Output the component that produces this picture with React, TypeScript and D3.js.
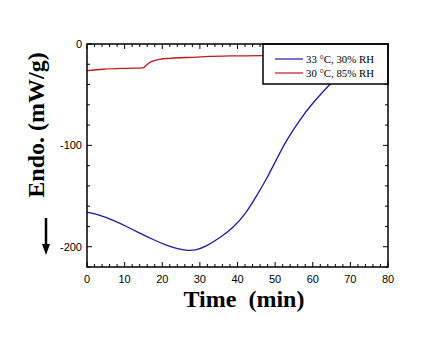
import React from "react";
import * as d3 from "d3";

const blueT = [0, 3.4, 7, 10.5, 14, 17.6, 21.1, 24.6, 27, 29, 31.7, 35.2, 38.8, 42.3, 45, 47.6, 50.3, 52.9, 56.4, 59.9, 64.4, 67, 70];
const blueV = [-166, -168.5, -174, -180, -186.5, -193, -198.7, -202.7, -203.8, -203.3, -199.7, -191.5, -181.6, -166.8, -150.4, -134, -114.3, -95.5, -75.5, -58.4, -40.4, -30, -20];
const redT = [0, 4.3, 10.5, 14.9, 15.8, 17.1, 19.3, 22, 28.2, 37.9, 46.6, 60, 70, 80];
const redV = [-26.3, -24.9, -24, -23.6, -20.7, -17.4, -15.1, -14.1, -13.1, -11.8, -11.5, -11, -10.8, -10.6];
const xTicks = [0, 10, 20, 30, 40, 50, 60, 70, 80];
const yTicks = [0, -100, -200];
const legendLabels = ["33 °C, 30% RH", "30 °C, 85% RH"];
const colors = ["#1c1ca0", "#c01a1a"];

export default function App() {
  const W = 433, H = 341;
  const L = 87, R = 388, T = 44, B = 267;
  const x = d3.scaleLinear().domain([0, 80]).range([L, R]);
  const y = d3.scaleLinear().domain([-220, 0]).range([B, T]);
  const lineB = d3.line<[number, number]>().x(d => x(d[0])).y(d => y(d[1])).curve(d3.curveBasis);
  const lineR = d3.line<[number, number]>().x(d => x(d[0])).y(d => y(d[1])).curve(d3.curveMonotoneX);
  const blue: [number, number][] = blueT.map((t, i) => [t, blueV[i]]);
  const red: [number, number][] = redT.map((t, i) => [t, redV[i]]);
  const xMinor = d3.range(0, 80.01, 2);
  const yMinor = d3.range(-220, 0.01, 20);
  return (
    <svg width={W} height={H} style={{ position: "absolute", left: 0, top: 0, background: "#fff" }}>
      <defs>
        <clipPath id="clip"><rect x={L} y={T} width={R - L} height={B - T} /></clipPath>
      </defs>
      <g clipPath="url(#clip)" fill="none" strokeWidth={1.3}>
        <path d={lineR(red) || ""} stroke={colors[1]} />
        <path d={lineB(blue) || ""} stroke={colors[0]} />
      </g>
      <g stroke="#000" strokeWidth={1}>
        {xMinor.map(v => {
          const major = v % 10 === 0;
          const len = major ? 5 : 3;
          return (
            <g key={"x" + v}>
              <line x1={x(v)} x2={x(v)} y1={B} y2={B - len} />
              <line x1={x(v)} x2={x(v)} y1={T} y2={T + len} />
            </g>
          );
        })}
        {yMinor.map(v => {
          const major = v % 100 === 0;
          const len = major ? 5 : 3;
          return (
            <g key={"y" + v}>
              <line x1={L} x2={L + len} y1={y(v)} y2={y(v)} />
              <line x1={R} x2={R - len} y1={y(v)} y2={y(v)} />
            </g>
          );
        })}
      </g>
      <rect x={263} y={T} width={R - 263} height={40} fill="#fff" stroke="#000" strokeWidth={1.5} />
      {legendLabels.map((lab, i) => (
        <g key={lab}>
          <line x1={275} x2={303} y1={59 + i * 14} y2={59 + i * 14} stroke={colors[i]} strokeWidth={1.2} />
          <text x={306} y={63 + i * 14} fontFamily="Liberation Serif" fontSize={11} textLength={68} lengthAdjust="spacingAndGlyphs">{lab}</text>
        </g>
      ))}
      <rect x={L} y={T} width={R - L} height={B - T} fill="none" stroke="#000" strokeWidth={1.5} />
      <g fontFamily="Liberation Sans" fontSize={11} fill="#000">
        {xTicks.map(v => (
          <text key={v} x={x(v)} y={283} textAnchor="middle">{v}</text>
        ))}
        {yTicks.map(v => (
          <text key={v} x={82} y={y(v) + 4} textAnchor="end">{v}</text>
        ))}
      </g>
      <text x={244} y={307} textAnchor="middle" fontFamily="Liberation Serif" fontWeight="bold" fontSize={24} style={{ whiteSpace: "pre" }}>{"Time  (min)"}</text>
      <text transform="translate(44,125) rotate(-90)" textAnchor="middle" fontFamily="Liberation Serif" fontWeight="bold" fontSize={24}>Endo. (mW/g)</text>
      <line x1={46} x2={46} y1={218} y2={246} stroke="#000" strokeWidth={2.5} />
      <path d="M42,244 L50,244 L46,255 Z" fill="#000" />
    </svg>
  );
}
